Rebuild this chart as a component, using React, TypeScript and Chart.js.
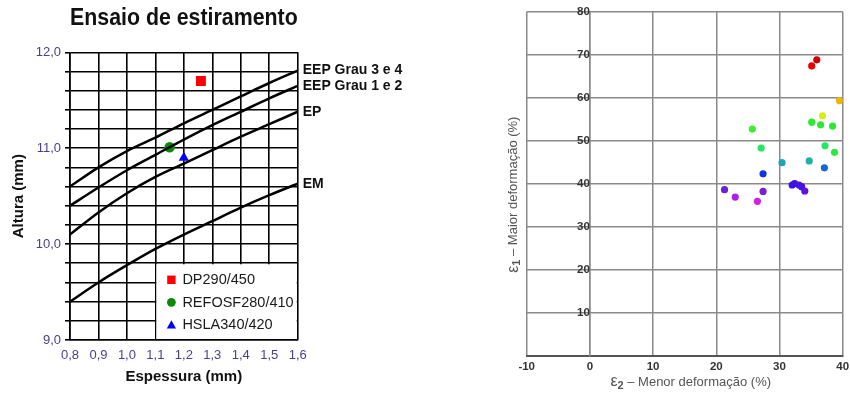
import { useEffect, useRef } from 'react';
import { Chart, registerables } from 'chart.js';

Chart.register(...registerables);

const FONT = '"Liberation Sans", Arial, Helvetica, sans-serif';

// ---- Ensaio de estiramento (altura x espessura) ----
const thickness = [0.8, 0.9, 1.0, 1.1, 1.2, 1.3, 1.4, 1.5, 1.6];
const thicknessTickLabels = ['0,8', '0,9', '1,0', '1,1', '1,2', '1,3', '1,4', '1,5', '1,6'];
const heightTickLabels = ['9,0', '10,0', '11,0', '12,0'];

const curveNames = ['EEP Grau 3 e 4', 'EEP Grau 1 e 2', 'EP', 'EM'];
const eep34Height = [10.6, 10.8, 10.97, 11.11, 11.26, 11.4, 11.54, 11.68, 11.81];
const eep12Height = [10.4, 10.59, 10.77, 10.93, 11.09, 11.24, 11.38, 11.52, 11.65];
const epHeight = [10.1, 10.33, 10.53, 10.7, 10.84, 10.98, 11.12, 11.25, 11.38];
const emHeight = [9.4, 9.6, 9.78, 9.95, 10.1, 10.24, 10.38, 10.51, 10.63];

const materialNames = ['DP290/450', 'REFOSF280/410', 'HSLA340/420'];
const materialThickness = [1.26, 1.15, 1.2];
const materialHeight = [11.7, 11.01, 10.9];

// ---- Diagrama de deformações (e2 x e1) ----
const minorStrain = [
  35.1, 35.9, 39.5, 36.8, 25.7, 35.1, 36.5, 38.4, 27.1, 37.2, 38.7, 30.4,
  34.7, 37.1, 27.4, 32.0, 32.4, 33.1, 33.5, 34.0, 21.3, 27.4, 23.0, 26.5,
];
const majorStrain = [
  67.4, 68.8, 59.3, 55.8, 52.7, 54.3, 53.7, 53.4, 48.3, 48.8, 47.3, 44.9,
  45.3, 43.7, 42.3, 39.7, 40.0, 39.7, 39.3, 38.3, 38.6, 38.2, 36.9, 35.9,
];
const minorStrainTickLabels = ['-10', '0', '10', '20', '30', '40'];
const majorStrainTickLabels = ['', '10', '20', '30', '40', '50', '60', '70', '80'];

const strainPointColors = [
  '#e80000', '#cc0000', '#f2b400', '#d6ee10', '#3aee30', '#2ee832', '#2ee832', '#30e830',
  '#22e860', '#22e860', '#2ce840', '#1ea4b8', '#20b0a4', '#1068d4', '#1034e0', '#3a12e8',
  '#3a12e8', '#4812e4', '#4812e4', '#5e12e0', '#6a20d8', '#7a20d0', '#b020e0', '#d020e0',
];

const TICK_PURPLE = '#4b3d8f';

const curveLabelsPlugin = {
  id: 'curveLabels',
  afterDatasetsDraw(chart: any) {
    const ctx = chart.ctx;
    ctx.save();
    ctx.font = `bold 14px ${FONT}`;
    ctx.fillStyle = '#111';
    ctx.textAlign = 'left';
    ctx.textBaseline = 'middle';
    for (let i = 0; i < curveNames.length; i++) {
      const meta = chart.getDatasetMeta(i);
      const last = meta.data[meta.data.length - 1];
      ctx.fillText(curveNames[i], last.x + 5, last.y);
    }
    ctx.restore();
  },
};

const insetLegendPlugin = {
  id: 'insetLegend',
  beforeDatasetsDraw(chart: any) {
    const { ctx, chartArea, scales } = chart;
    const left = scales.x.getPixelForValue(1.1);
    const top = scales.y.getPixelForValue(9.8);
    const right = chartArea.right;
    const bottom = chartArea.bottom;
    ctx.save();
    ctx.fillStyle = '#fff';
    ctx.fillRect(left + 1, top + 1, right - left - 2, bottom - top - 2);
    ctx.font = `14.5px ${FONT}`;
    ctx.textAlign = 'left';
    ctx.textBaseline = 'middle';
    const colors = ['#ff0000', '#0a8a0a', '#0000ff'];
    for (let i = 0; i < materialNames.length; i++) {
      const cy = top + 16.5 + i * 22.5;
      const cx = left + 16;
      ctx.fillStyle = colors[i];
      ctx.beginPath();
      if (i === 0) {
        ctx.rect(cx - 4.2, cy - 4.2, 8.4, 8.4);
      } else if (i === 1) {
        ctx.arc(cx, cy, 4.4, 0, Math.PI * 2);
      } else {
        ctx.moveTo(cx, cy - 4.5);
        ctx.lineTo(cx + 4.6, cy + 3.6);
        ctx.lineTo(cx - 4.6, cy + 3.6);
        ctx.closePath();
      }
      ctx.fill();
      ctx.fillStyle = '#1a1a1a';
      ctx.fillText(materialNames[i], left + 27, cy + 0.5);
    }
    ctx.restore();
  },
};

function drawComposite(ctx: CanvasRenderingContext2D, parts: { text: string; font: string; dy: number }[], cx: number, cy: number, rotation: number) {
  ctx.save();
  ctx.translate(cx, cy);
  ctx.rotate(rotation);
  ctx.textBaseline = 'middle';
  ctx.textAlign = 'left';
  let total = 0;
  const widths = parts.map((p) => {
    ctx.font = p.font;
    const w = ctx.measureText(p.text).width;
    total += w;
    return w;
  });
  let x = -total / 2;
  parts.forEach((p, i) => {
    ctx.font = p.font;
    ctx.fillText(p.text, x, p.dy);
    x += widths[i];
  });
  ctx.restore();
}

const strainTitlesPlugin = {
  id: 'strainTitles',
  afterDraw(chart: any) {
    const { ctx, chartArea } = chart;
    ctx.save();
    ctx.fillStyle = '#555';
    const eps = `16px ${FONT}`;
    const sub = `bold 11px ${FONT}`;
    const body = `13px ${FONT}`;
    drawComposite(
      ctx,
      [
        { text: 'ε', font: eps, dy: 0 },
        { text: '2', font: sub, dy: 4 },
        { text: ' – Menor deformação (%)', font: body, dy: 0.5 },
      ],
      (chartArea.left + chartArea.right) / 2 + 6,
      chartArea.bottom + 26,
      0,
    );
    drawComposite(
      ctx,
      [
        { text: 'ε', font: eps, dy: 0 },
        { text: '1', font: sub, dy: 4 },
        { text: ' – Maior deformação (%)', font: body, dy: 0.5 },
      ],
      chartArea.left - 13.5,
      (chartArea.top + chartArea.bottom) / 2 + 11,
      -Math.PI / 2,
    );
    ctx.restore();
  },
};

function StretchChart() {
  const ref = useRef<HTMLCanvasElement | null>(null);
  useEffect(() => {
    if (!ref.current) return;
    const curves = [eep34Height, eep12Height, epHeight, emHeight];
    const chart = new Chart(ref.current, {
      type: 'scatter',
      data: {
        datasets: [
          ...curves.map((ys, i) => ({
            label: curveNames[i],
            data: thickness.map((x, j) => ({ x, y: ys[j] })),
            showLine: true,
            borderColor: '#000',
            borderWidth: 2.5,
            pointRadius: 0,
            cubicInterpolationMode: 'monotone' as const,
            fill: false,
          })),
          {
            label: materialNames[0],
            data: [{ x: materialThickness[0], y: materialHeight[0] }],
            pointStyle: 'rect',
            pointRadius: 7,
            backgroundColor: '#ff0000',
            borderWidth: 0,
          },
          {
            label: materialNames[1],
            data: [{ x: materialThickness[1], y: materialHeight[1] }],
            pointStyle: 'circle',
            pointRadius: 5.2,
            backgroundColor: '#0a8a0a',
            borderWidth: 0,
          },
          {
            label: materialNames[2],
            data: [{ x: materialThickness[2], y: materialHeight[2] }],
            pointStyle: 'triangle',
            pointRadius: 6,
            backgroundColor: '#0000ff',
            borderWidth: 0,
          },
        ],
      },
      options: {
        responsive: false,
        animation: false,
        devicePixelRatio: 1,
        layout: { padding: { left: 0, right: 127.3, top: 0, bottom: 0 } },
        plugins: {
          legend: { display: false },
          tooltip: { enabled: false },
          title: {
            display: true,
            text: 'Ensaio de estiramento',
            fullSize: false,
            color: '#111',
            font: { family: FONT, size: 23, weight: 'bold' },
            padding: { top: 5, bottom: 19.7 },
          },
        },
        scales: {
          x: {
            type: 'linear',
            min: 0.8,
            max: 1.6,
            afterFit: (s: any) => {
              s.height = 54;
            },
            ticks: {
              stepSize: 0.1,
              autoSkip: false,
              maxRotation: 0,
              padding: 8,
              color: TICK_PURPLE,
              font: { family: FONT, size: 13 },
              callback: (_v: any, i: number) => thicknessTickLabels[i] ?? '',
            },
            grid: { color: '#000', lineWidth: 1.6, drawTicks: false },
            border: { color: '#000', width: 1.6 },
            title: {
              display: true,
              text: 'Espessura (mm)',
              color: '#111',
              font: { family: FONT, size: 15, weight: 'bold' },
              padding: { top: 0, bottom: 7.7 },
            },
          },
          y: {
            type: 'linear',
            min: 9,
            max: 12,
            afterFit: (s: any) => {
              s.width = 70;
            },
            ticks: {
              stepSize: 0.2,
              autoSkip: false,
              padding: 4,
              color: TICK_PURPLE,
              font: { family: FONT, size: 13 },
              callback: (v: any) => {
                const n = Number(v);
                const r = Math.round(n);
                return Math.abs(n - r) < 1e-6 ? heightTickLabels[r - 9] ?? '' : '';
              },
            },
            grid: { color: '#000', lineWidth: 1.6, tickLength: 5 },
            border: { color: '#000', width: 1.6 },
            title: {
              display: true,
              text: 'Altura (mm)',
              color: '#111',
              font: { family: FONT, size: 15, weight: 'bold' },
              padding: { top: 10, bottom: 0 },
            },
          },
        },
      } as any,
      plugins: [curveLabelsPlugin, insetLegendPlugin],
    });
    return () => chart.destroy();
  }, []);
  return <canvas ref={ref} width={425} height={394} style={{ position: 'absolute', left: 0, top: 0 }} />;
}

function StrainChart() {
  const ref = useRef<HTMLCanvasElement | null>(null);
  useEffect(() => {
    if (!ref.current) return;
    const chart = new Chart(ref.current, {
      type: 'scatter',
      data: {
        datasets: [
          {
            label: 'Deformações',
            data: minorStrain.map((x, i) => ({ x, y: majorStrain[i] })),
            backgroundColor: strainPointColors,
            borderWidth: 0,
            pointRadius: 3.6,
          },
        ],
      },
      options: {
        responsive: false,
        animation: false,
        devicePixelRatio: 1,
        layout: { padding: { left: 101.7, right: 7.3, top: 11.7, bottom: 0 } },
        plugins: { legend: { display: false }, tooltip: { enabled: false } },
        scales: {
          x: {
            type: 'linear',
            min: -10,
            max: 40,
            afterFit: (s: any) => {
              s.height = 38.3;
              s.paddingLeft = 0;
              s.paddingRight = 0;
            },
            ticks: {
              stepSize: 10,
              autoSkip: false,
              maxRotation: 0,
              padding: 4,
              color: '#333',
              font: { family: FONT, size: 11.5, weight: 'bold' },
              callback: (_v: any, i: number) => minorStrainTickLabels[i] ?? '',
            },
            grid: { color: '#8a8a8a', lineWidth: 1.5, drawTicks: false },
            border: { color: '#555', width: 2 },
          },
          y: {
            type: 'linear',
            min: 0,
            max: 80,
            position: { x: 0 },
            afterFit: (s: any) => {
              s.paddingTop = 0;
              s.paddingBottom = 0;
            },
            ticks: {
              stepSize: 10,
              autoSkip: false,
              padding: 0,
              color: '#333',
              font: { family: FONT, size: 11.5, weight: 'bold' },
              callback: (_v: any, i: number) => majorStrainTickLabels[i] ?? '',
            },
            grid: { color: '#8a8a8a', lineWidth: 1.5, drawTicks: false },
            border: { color: '#8a8a8a', width: 1.5 },
          },
        },
      } as any,
      plugins: [strainTitlesPlugin],
    });
    return () => chart.destroy();
  }, []);
  return <canvas ref={ref} width={425} height={394} style={{ position: 'absolute', left: 425, top: 0 }} />;
}

export default function App() {
  return (
    <div style={{ position: 'absolute', left: 0, top: 0, width: 850, height: 394, background: '#fff', overflow: 'hidden' }}>
      <StretchChart />
      <StrainChart />
    </div>
  );
}
